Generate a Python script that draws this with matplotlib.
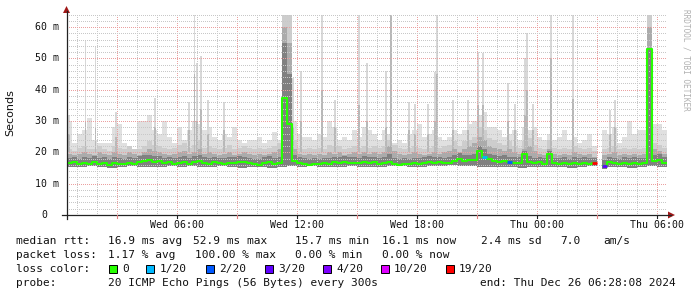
import numpy as np
import matplotlib
matplotlib.use("Agg")
import matplotlib.pyplot as plt
from matplotlib.patches import Polygon, Rectangle

# ---------------- data (hours since Wed 00:00, values in ms) ----------------
t_start = 0.5
step_h = 0.25
nan = np.nan

median = [16.5,16.8,16.2,16.6,16.4,16.9,16.3,16.6,16.0,16.5,
          16.4,16.2,16.7,16.3,16.9,17.2,17.5,16.9,17.1,16.5,
          16.8,16.3,16.6,16.9,16.4,17.0,17.2,16.6,16.4,16.8,
          16.5,16.3,16.7,16.6,16.9,16.8,16.5,16.2,16.0,16.7,
          16.9,16.4,16.6,37.5,29.0,17.4,16.6,16.3,16.1,16.4,
          16.2,16.5,16.3,16.8,16.6,16.9,16.7,16.7,16.5,16.9,
          16.6,16.8,16.4,16.7,17.0,16.3,16.1,16.4,16.2,16.5,
          16.3,16.7,16.9,16.6,16.8,16.5,16.7,17.3,18.0,17.2,
          17.5,17.7,20.5,18.5,17.8,17.3,17.0,17.4,16.8,16.7,
          16.6,19.5,17.0,16.5,16.8,16.3,19.5,16.5,16.3,16.6,
          16.2,16.7,16.4,16.6,16.3,16.6,nan,15.8,16.8,16.5,
          16.2,16.6,16.4,16.7,16.3,16.5,53.0,17.2,17.6,16.6]

light_top = [30,23,26,27,31,24,23,23,23,28,
             29,23,22,21,30,30,32,27,26,30,
             25,23,28,24,27,30,29,27,28,25,
             24,26,25,28,24,23,24,24,25,23,
             24,26.6,24,64,64,30,26,25,25,24,
             26,25,30,28,24,25,24,27,25,28,
             27,26,24,27,26,23,24,23,26,27,
             29,25,26,27,25,24,25,27,26,27,
             29,30,32,33,28,28,27,25,26,27,
             24,28,27,28,25,24,26,24,25,27,
             24,25,23,24,26,22,nan,27,26,28,
             23,25,30,26,27,27,64,29,29,27]

mid_top = [21,20.5,21.5,22,21,21,22,21,20.5,22,
           21.5,21,22,21,21,22,23.5,22.5,22,21.5,
           21,21.5,22.5,23,21.5,22.5,24,21.5,22,21.5,
           21,21.5,22.5,21,21.5,22,21.5,21,21.5,21,
           21.5,22,23,64,64,24,21.5,21,21.5,21,
           21.5,21,22.5,22,22,21,21.5,22,21.5,22,
           21.5,22,21.5,22,24,22.5,21.5,21,21.5,22,
           21.5,21,21.5,22,21.5,22,22.5,23.5,22,23.5,
           24,25,28,27,24.5,24,23,22.5,23.5,22,
           21.5,23.5,24.5,22.5,21.5,21,24,21.5,21,21.5,
           21,22,21.5,21,21.5,20.5,nan,21,21.5,22,
           21,21.5,21,21.5,21,21.5,64,23,22.5,21.5]

dark_top = [19.5,19,19.5,20,19.5,19,20,19.5,19,20,
            19.5,19,20,19.5,19,20,21,20.5,20,19.5,
            19,19.5,20,20.5,19.5,20,21,19.5,20,19.5,
            19,19.5,20,19,19.5,20,19.5,19,19.5,19,
            19.5,20,21,60,55,21,19.5,19,19.5,19,
            19.5,19,20,19.5,20,19,19.5,20,19.5,20,
            19.5,20,19.5,20,22,20.5,19.5,19,19.5,20,
            19.5,19,19.5,20,19.5,20,20.5,21,20,21,
            22,23,25,24,22,21.5,21,20.5,21,20,
            19.5,21,22,20.5,19.5,19,21,19.5,19,19.5,
            19,20,19.5,19,19.5,18.5,nan,19,19.5,20,
            19,19.5,19,19.5,19,19.5,60,21,20.5,19.5]

core_top = [18.3,18.6,18.0,18.5,18.2,18.8,18.1,18.4,17.9,18.4,
            18.2,18.0,18.6,18.1,18.7,19.0,19.3,18.7,18.9,18.3,
            18.6,18.1,18.4,18.7,18.2,18.8,19.0,18.4,18.2,18.6,
            18.3,18.1,18.5,18.4,18.7,18.6,18.3,18.0,17.8,18.5,
            18.7,18.2,18.6,55.0,45.0,19.2,18.4,18.1,17.9,18.2,
            18.0,18.3,18.1,18.6,18.4,18.7,18.5,18.5,18.3,18.7,
            18.4,18.6,18.2,18.5,19.5,18.1,17.9,18.2,18.0,18.3,
            18.1,18.5,18.7,18.4,18.6,18.3,18.5,19.1,19.8,19.0,
            19.3,19.5,22.0,21.0,19.6,19.1,18.8,19.2,18.6,18.5,
            18.4,20.5,18.8,18.3,18.6,18.1,20.5,18.3,18.1,18.4,
            18.0,18.5,18.2,18.4,18.1,18.2,nan,17.6,18.6,18.3,
            18.0,18.4,18.2,18.5,18.1,18.3,53.0,19.0,19.4,18.4]

# smoke bottom, one value per 30 minutes
smoke_bottom = [15.4,15.2,15.5,15.3,15.1,15.4,15.6,15.3,15.2,15.4,
                15.5,15.3,15.6,15.4,15.2,15.5,15.3,15.1,15.4,15.2,
                15.0,15.3,15.5,15.4,15.6,15.3,15.2,15.4,15.5,15.3,
                15.4,15.2,15.5,15.6,15.3,15.4,15.7,15.5,15.9,15.6,
                15.5,15.4,15.2,15.3,15.4,15.1,15.3,15.2,15.4,15.3,
                15.1,15.4,15.5,14.8,15.2,15.3,15.1,15.4,15.5,15.2]

# isolated single-ping spikes: time, top, top of the denser part
spike_t = [0.585,1.415,1.915,2.95,4.885,6.6,6.865,7.0,7.185,7.55,8.35,11.8,
           12.2,13.25,13.9,15.1,15.5,16.45,16.7,17.6,17.9,18.55,18.9,19.0,
           19.8,20.55,21.05,21.3,22.55,22.9,23.4,23.5,23.8,24.7,25.8,27.65,27.9]
spike_top = [32,56,54,33,37.5,36,64,48.4,50.7,36.7,36,43.6,
             46,64,36.7,64,48.4,46,64,36,35.6,35.6,45.7,64,
             36.7,36.7,52,51.6,42,35.6,50,58,35.6,64,64,33.5,36.7]
spike_mid = [26,30,28,25,28,27,45,30,34,26,27,28,
             30,40,28,35,30,28,64,27,26,26,30,45,
             27,27,35,35,30,27,32,40,27,50,37,26,28]

loss_steps = [83, 88, 105, 107]
loss_counts = [1, 2, 19, 3]

loss_labels = ["0", "1/20", "2/20", "3/20", "4/20", "10/20", "19/20"]
loss_values = [0, 1, 2, 3, 4, 10, 19]
loss_colors = ["#26ff00", "#00b8ff", "#0059ff", "#5e00ff", "#7e00ff", "#dd00ff", "#ff0000"]

x_tick_pos = [6, 12, 18, 24, 30]
x_tick_labels = ["Wed 06:00", "Wed 12:00", "Wed 18:00", "Thu 00:00", "Thu 06:00"]
y_tick_pos = [0, 10, 20, 30, 40, 50, 60]
y_tick_labels = ["0", "10 m", "20 m", "30 m", "40 m", "50 m", "60 m"]

stats_rows = [
    ("median rtt:", [(108, "16.9 ms avg"), (193, "52.9 ms max"), (295, "15.7 ms min"),
                     (382, "16.1 ms now"), (481, "2.4 ms sd"), (560, "7.0"), (603, "am/s")]),
    ("packet loss:", [(108, "1.17 % avg"), (195, "100.00 % max"), (295, "0.00 % min"),
                      (382, "0.00 % now")]),
]
probe_text = "20 ICMP Echo Pings (56 Bytes) every 300s"
end_text = "end: Thu Dec 26 06:28:08 2024"

# ---------------- figure ----------------
W, H = 697, 297
fig = plt.figure(figsize=(W / 100, H / 100), dpi=100, facecolor="white")

def fx(px):
    return px / W

def fy(py):
    return 1 - py / H

ax = fig.add_axes([fx(66.5), fy(215), 600 / W, 202 / H])
ax.set_facecolor("white")
x0, x1 = 0.47, 30.47
ax.set_xlim(x0, x1)
ax.set_ylim(0, 64.5)
for s in ax.spines.values():
    s.set_visible(False)
ax.set_xticks([])
ax.set_yticks([])

n = len(median)
t = t_start + step_h * np.arange(n)
lo = np.repeat(np.asarray(smoke_bottom, float), 2)[:n]

def band(top, color, z):
    top = np.asarray(top, float)
    ok = ~np.isnan(top)
    ax.bar(t[ok], top[ok] - lo[ok], bottom=lo[ok], width=step_h, align="edge",
           color=color, linewidth=0, antialiased=False, zorder=z)

band(light_top, "#e0e0e0", 1)
band(mid_top, "#cdcdcd", 2)
band(dark_top, "#ababab", 3)
band(core_top, "#808080", 4)

st = np.asarray(spike_t)
ax.bar(st, np.asarray(spike_top) - 20, bottom=20, width=1 / 12, align="center",
       color="#d8d8d8", linewidth=0, antialiased=False, zorder=1.5)
ax.bar(st, np.asarray(spike_mid) - 20, bottom=20, width=1 / 12, align="center",
       color="#b8b8b8", linewidth=0, antialiased=False, zorder=2.5)

# grid (1px dotted, drawn crisp)
dots = (0, (1, 2))
for h in np.arange(1, 31):
    major = (h % 3 == 0)
    ln = ax.axvline(h, color="#eba0a0" if major else "#c8c8c8", lw=0.72,
                    ls=dots, zorder=6)
    ln.set_antialiased(False)
for v in np.arange(2, 65, 2):
    major = (v % 10 == 0)
    ln = ax.axhline(v, color="#eba0a0" if major else "#c8c8c8", lw=0.72,
                    ls=dots, zorder=6)
    ln.set_antialiased(False)

# median line
edges = np.append(t, t[-1] + step_h)
med = np.asarray(median, float)
ax.plot(edges, np.append(med, med[-1]), drawstyle="steps-post",
        color=loss_colors[0], lw=1.5, zorder=8, solid_capstyle="butt")
for k, c in zip(loss_steps, loss_counts):
    col = loss_colors[loss_values.index(c)]
    ax.hlines(med[k], t[k], t[k] + step_h, color=col, lw=2.0, zorder=9)

# axes lines and arrows
axis_col = "#222222"
arrow_col = "#a01818"
fig.add_artist(plt.Line2D([fx(62), fx(671)], [fy(215), fy(215)], color=axis_col, lw=0.9))
fig.add_artist(plt.Line2D([fx(66.5), fx(66.5)], [fy(219), fy(11)], color=axis_col, lw=0.9))
fig.add_artist(Polygon([[fx(668), fy(211.5)], [fx(675), fy(215)], [fx(668), fy(218.5)]],
                       closed=True, transform=fig.transFigure, color=arrow_col, lw=0))
fig.add_artist(Polygon([[fx(63), fy(13)], [fx(66.5), fy(6)], [fx(70), fy(13)]],
                       closed=True, transform=fig.transFigure, color=arrow_col, lw=0))

# small ticks on x axis
for h in np.arange(3, 31, 3):
    px = 66.5 + (h - x0) / (x1 - x0) * 600
    fig.add_artist(plt.Line2D([fx(px), fx(px)], [fy(215), fy(218)],
                              color="#e08080" if h % 6 else axis_col, lw=0.8))

mono = "DejaVu Sans Mono"
tcol = "#111111"
# tick labels
for p, lab in zip(x_tick_pos, x_tick_labels):
    px = 66.5 + (p - x0) / (x1 - x0) * 600
    fig.text(fx(px), fy(225), lab, family=mono, fontsize=7.1, ha="center",
             va="center", color=tcol)
for v, lab in zip(y_tick_pos, y_tick_labels):
    py = 215 - v * 202 / 64.5
    right = 59 if " " in lab else 47.5
    fig.text(fx(right), fy(py), lab, family=mono, fontsize=7.1, ha="right",
             va="center", color=tcol)

fig.text(fx(10), fy(113), "Seconds", family="DejaVu Sans", fontsize=8.0,
         rotation=90, ha="center", va="center", color=tcol)
fig.text(fx(686), fy(60), "RRDTOOL / TOBI OETIKER", family=mono, fontsize=5.6,
         rotation=-90, ha="center", va="center", color="#b0b0b0")

# legend / stats
fs = 8.0
row_y = [241, 255, 269, 283]
for (lab, items), ry in zip(stats_rows, row_y[:2]):
    fig.text(fx(16), fy(ry), lab, family=mono, fontsize=fs, ha="left", va="center", color=tcol)
    for px, s in items:
        fig.text(fx(px), fy(ry), s, family=mono, fontsize=fs, ha="left", va="center", color=tcol)

fig.text(fx(16), fy(row_y[2]), "loss color:", family=mono, fontsize=fs, ha="left",
         va="center", color=tcol)
sq_x = [108.5, 146, 205.5, 265, 322.5, 380.5, 445.5]
for sx, lab, col in zip(sq_x, loss_labels, loss_colors):
    fig.add_artist(Rectangle((fx(sx), fy(row_y[2] + 4)), 8 / W, 8 / H,
                             transform=fig.transFigure, facecolor=col,
                             edgecolor="black", lw=0.7))
    fig.text(fx(sx + 13.5), fy(row_y[2]), lab, family=mono, fontsize=fs,
             ha="left", va="center", color=tcol)

fig.text(fx(16), fy(row_y[3]), "probe:", family=mono, fontsize=fs, ha="left",
         va="center", color=tcol)
fig.text(fx(108), fy(row_y[3]), probe_text, family=mono, fontsize=fs, ha="left",
         va="center", color=tcol)
fig.text(fx(480), fy(row_y[3]), end_text, family=mono, fontsize=fs, ha="left",
         va="center", color=tcol)

fig.savefig("out.png", dpi=100, facecolor="white")
